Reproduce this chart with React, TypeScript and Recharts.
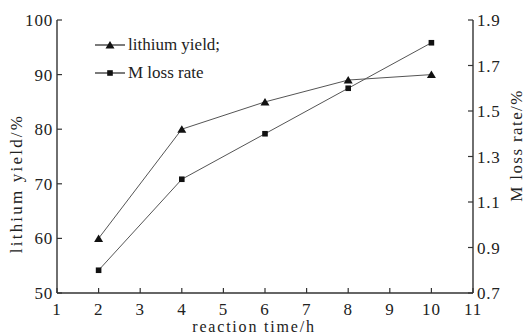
import React from 'react';
import { LineChart, Line, XAxis, YAxis, Legend } from 'recharts';

const reactionTimes = [2, 4, 6, 8, 10];
const lithiumYield = [60, 80, 85, 89, 90];
const mLossRate = [0.8, 1.2, 1.4, 1.6, 1.8];
const xTicks = [1, 2, 3, 4, 5, 6, 7, 8, 9, 10, 11];
const leftTicks = [50, 60, 70, 80, 90, 100];
const rightTicks = [0.7, 0.9, 1.1, 1.3, 1.5, 1.7, 1.9];

const data = reactionTimes.map((t, i) => ({ time: t, li: lithiumYield[i], m: mLossRate[i] }));

const FONT = '"Liberation Serif", "Times New Roman", serif';
const TEXT = '#222';
const AXIS = '#333';
const LINE = '#555';

const Triangle = (props: any) => {
  const { cx, cy } = props;
  if (cx == null || cy == null) return null;
  return <polygon points={`${cx},${cy - 4} ${cx - 4.5},${cy + 3.5} ${cx + 4.5},${cy + 3.5}`} fill="#111" />;
};
const Square = (props: any) => {
  const { cx, cy } = props;
  if (cx == null || cy == null) return null;
  return <rect x={cx - 2.8} y={cy - 2.8} width={5.6} height={5.6} fill="#111" />;
};

const renderLegend = () => (
  <div style={{ fontFamily: FONT, fontSize: 17, color: TEXT }}>
    <div style={{ display: 'flex', alignItems: 'center', height: 28 }}>
      <svg width={31} height={12} style={{ marginRight: 2 }}>
        <line x1={0} y1={6} x2={30} y2={6} stroke="#222" strokeWidth={1.2} />
        <polygon points="15,2 10.5,9.5 19.5,9.5" fill="#111" />
      </svg>
      <span>lithium yield;</span>
    </div>
    <div style={{ display: 'flex', alignItems: 'center', height: 28 }}>
      <svg width={31} height={12} style={{ marginRight: 2 }}>
        <line x1={0} y1={6} x2={30} y2={6} stroke="#222" strokeWidth={1.2} />
        <rect x={12.2} y={3.2} width={5.6} height={5.6} fill="#111" />
      </svg>
      <span>M loss rate</span>
    </div>
  </div>
);

const LeftTitle = (props: any) => {
  const vb = props.viewBox || {};
  const cx = vb.x + 8;
  const cy = vb.y + vb.height / 2 + 27;
  return (
    <text x={cx} y={cy} transform={`rotate(-90 ${cx} ${cy})`} textAnchor="middle" dominantBaseline="central"
      fontFamily={FONT} fontSize={17} fill={TEXT} letterSpacing={2.2}>
      lithium yield/%
    </text>
  );
};
const RightTitle = (props: any) => {
  const vb = props.viewBox || {};
  const cx = vb.x + 43;
  const cy = vb.y + vb.height / 2 - 11;
  return (
    <text x={cx} y={cy} transform={`rotate(-90 ${cx} ${cy})`} textAnchor="middle" dominantBaseline="central"
      fontFamily={FONT} fontSize={17} fill={TEXT} letterSpacing={1.4}>
      M loss rate/%
    </text>
  );
};
const XTitle = (props: any) => {
  const vb = props.viewBox || {};
  return (
    <text x={vb.x + vb.width / 2 - 11} y={vb.y + 39} textAnchor="middle" fontFamily={FONT} fontSize={16}
      fill={TEXT} letterSpacing={1.8}>
      reaction time/h
    </text>
  );
};

const tickStyle = { fontFamily: FONT, fontSize: 17, fill: TEXT, letterSpacing: 0.8 };

export default function App() {
  return (
    <div style={{ position: 'absolute', left: 8, top: 8, width: 517, height: 327 }}>
      <LineChart width={517} height={327} data={data} margin={{ top: 12, right: 0, bottom: 0, left: 0 }}>
        <XAxis dataKey="time" type="number" domain={[1, 11]} ticks={xTicks} interval={0} height={42}
          axisLine={{ stroke: AXIS, strokeWidth: 1.4 }} tickLine={{ stroke: AXIS, strokeWidth: 1.2 }}
          tickSize={-5} tickMargin={15} tick={tickStyle} label={{ content: XTitle }} />
        <YAxis yAxisId="left" orientation="left" domain={[50, 100]} ticks={leftTicks} interval={0} width={49}
          axisLine={{ stroke: AXIS, strokeWidth: 1.4 }} tickLine={{ stroke: AXIS, strokeWidth: 1.2 }}
          tickSize={-5} tickMargin={9} tick={tickStyle} label={{ content: LeftTitle }} />
        <YAxis yAxisId="right" orientation="right" domain={[0.7, 1.9]} ticks={rightTicks} interval={0} width={52}
          axisLine={{ stroke: AXIS, strokeWidth: 1.4 }} tickLine={{ stroke: AXIS, strokeWidth: 1.2 }}
          tickSize={-5} tickMargin={9} tick={tickStyle} tickFormatter={(v: number) => v.toFixed(1)}
          label={{ content: RightTitle }} />
        <Legend layout="vertical" align="center" verticalAlign="middle" content={renderLegend}
          wrapperStyle={{ left: 87, top: 23, width: 'auto', height: 'auto' }} />
        <Line yAxisId="left" dataKey="li" stroke={LINE} strokeWidth={1} dot={<Triangle />} isAnimationActive={false} />
        <Line yAxisId="right" dataKey="m" stroke={LINE} strokeWidth={1} dot={<Square />} isAnimationActive={false} />
      </LineChart>
    </div>
  );
}
